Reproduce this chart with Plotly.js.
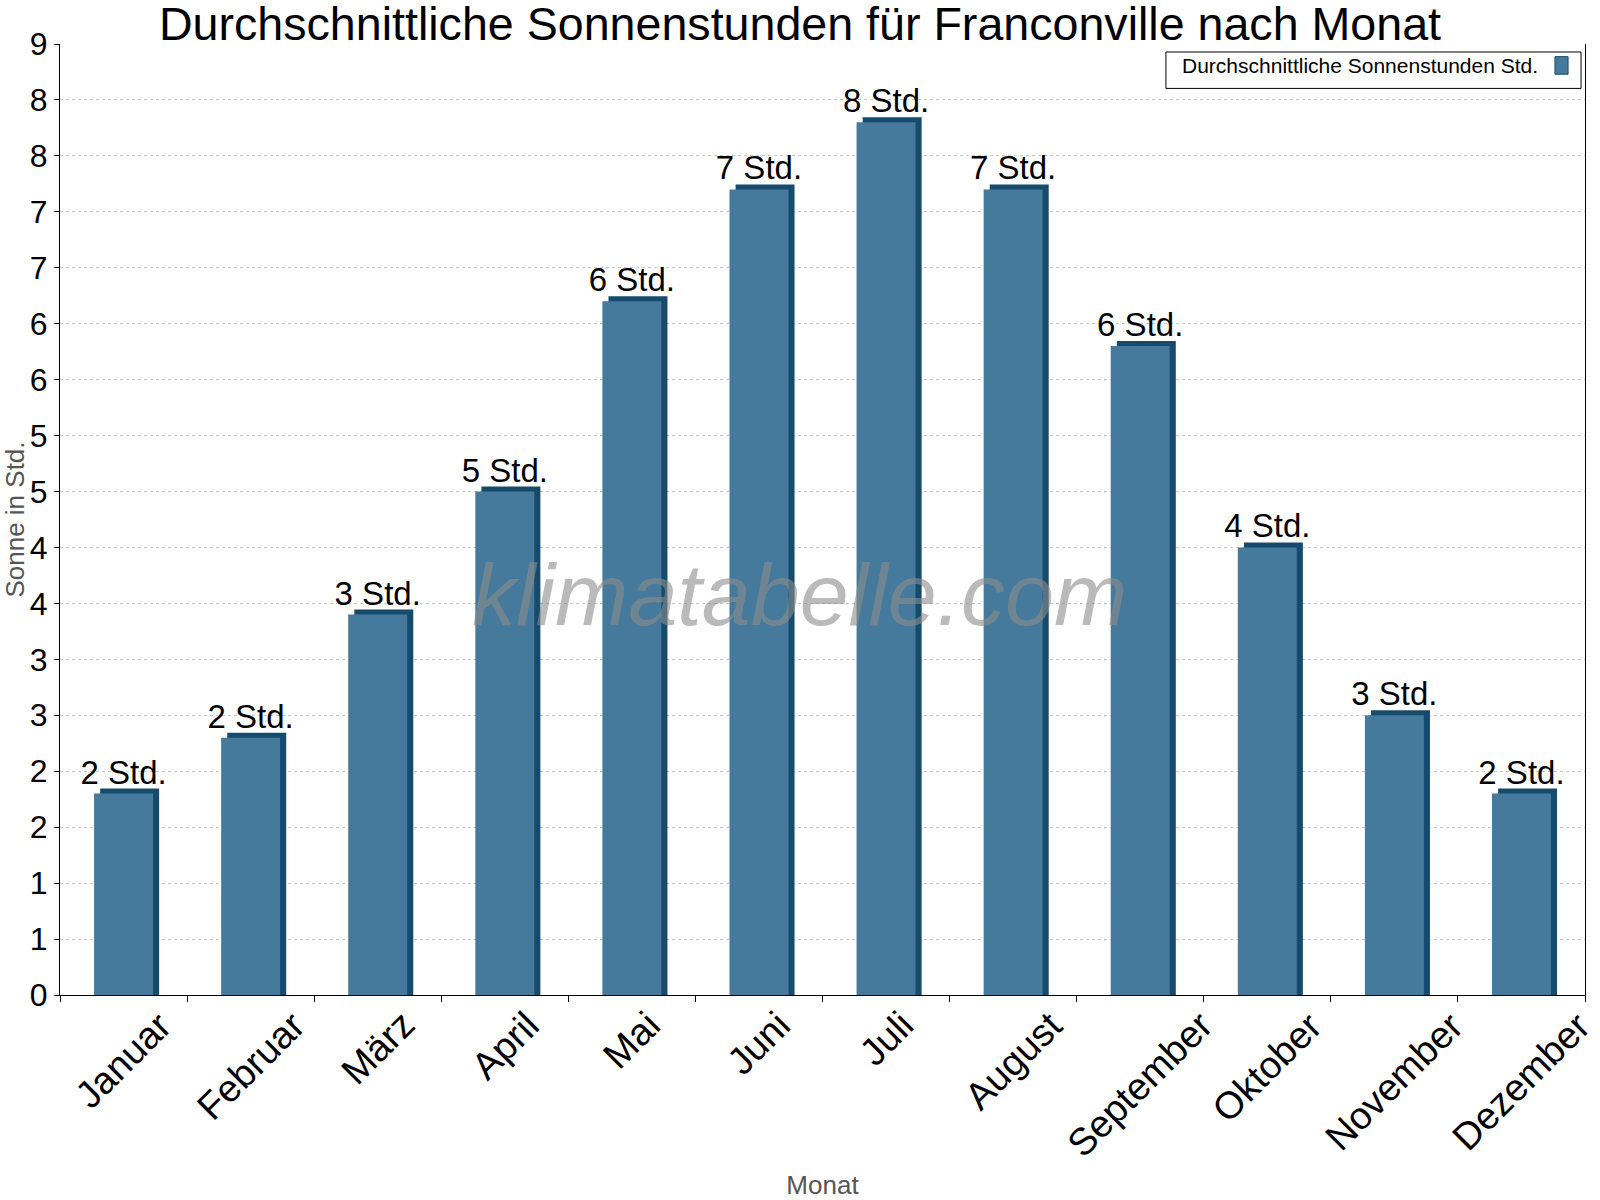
<!DOCTYPE html>
<html>
<head>
<meta charset="utf-8">
<script src="https://cdn.plot.ly/plotly-3.0.1.min.js"></script>
<style>html,body{margin:0;padding:0;background:#fff;}#chart{width:1600px;height:1200px;}</style>
</head>
<body>
<div id="chart"></div>
<script>
const months = ["Januar","Februar","März","April","Mai","Juni","Juli","August","September","Oktober","November","Dezember"];
const sunHours = [1.8, 2.3, 3.4, 4.5, 6.2, 7.2, 7.8, 7.2, 5.8, 4.0, 2.5, 1.8];
const valueLabels = ["2 Std.","2 Std.","3 Std.","5 Std.","6 Std.","7 Std.","8 Std.","7 Std.","6 Std.","4 Std.","3 Std.","2 Std."];
const yTickVals = [0,0.5,1,1.5,2,2.5,3,3.5,4,4.5,5,5.5,6,6.5,7,7.5,8,8.5];
const yTickText = ["0","1","1","2","2","3","3","4","4","5","5","6","6","7","7","8","8","9"];
const seriesName = "Durchschnittliche Sonnenstunden Std.";

const FONT = "Liberation Sans, Arial, Helvetica, sans-serif";
const FRONT = "#467a9c";
const DARK = "#174b6c";
const barW = 0.464;
const depthX = 0.048;
const depthY = 0.045;

const backTrace = {
  type: "bar",
  x: months,
  y: sunHours.map(v => v + depthY),
  width: barW,
  offset: -barW/2 + depthX,
  marker: {color: DARK, line: {width: 0}},
  hoverinfo: "skip",
  showlegend: false
};
const frontTrace = {
  type: "bar",
  name: seriesName,
  x: months,
  y: sunHours,
  width: barW,
  offset: -barW/2,
  marker: {color: FRONT, line: {width: 0}},
  text: valueLabels,
  textposition: "outside",
  constraintext: "none",
  cliponaxis: false,
  textfont: {family: FONT, size: 33, color: "#000"},
  showlegend: false
};

// month labels: rotated, centred under each category (bounding box top-aligned)
const monthLabels = months.map(m => ({
  text: m, xref: "x", yref: "paper", x: m, y: 0, yshift: -6,
  xanchor: "center", yanchor: "top", textangle: -45, showarrow: false,
  font: {family: FONT, size: 38, color: "#000"}
}));

const layout = {
  width: 1600, height: 1200,
  paper_bgcolor: "#fff", plot_bgcolor: "#fff",
  font: {family: FONT, color: "#000"},
  margin: {l: 60, r: 15, t: 44, b: 204.5, autoexpand: false},
  barmode: "overlay",
  showlegend: false,
  title: {
    text: "Durchschnittliche Sonnenstunden für Franconville nach Monat",
    font: {family: FONT, size: 46.6, color: "#000"},
    xref: "container", x: 0.5, xanchor: "center",
    yref: "container", y: 1 - 24/1200, yanchor: "middle"
  },
  xaxis: {
    type: "category",
    range: [-0.5, months.length - 0.5],
    autorange: false,
    tickson: "boundaries",
    ticks: "outside", ticklen: 6, tickcolor: "#000", tickwidth: 1,
    showticklabels: false,
    showline: true, linecolor: "#000", linewidth: 1,
    showgrid: false, zeroline: false,
    title: {text: "Monat", font: {family: FONT, size: 26, color: "#555"}, standoff: 180}
  },
  yaxis: {
    range: [0, 8.5],
    autorange: false,
    tickmode: "array", tickvals: yTickVals, ticktext: yTickText,
    ticks: "outside", ticklen: 5, tickcolor: "#000", tickwidth: 1,
    tickfont: {family: FONT, size: 32, color: "#000"},
    showline: true, linecolor: "#000", linewidth: 1, mirror: true,
    showgrid: true, gridcolor: "#c8c8c8", griddash: "dot", gridwidth: 1,
    zeroline: false,
    title: {text: "Sonne in Std.", font: {family: FONT, size: 26, color: "#555"}, standoff: 4}
  },
  shapes: [
    {type: "rect", xref: "paper", yref: "paper", x0: 0.7252, x1: 0.9974, y0: 0.9533, y1: 0.9916,
     line: {color: "#000", width: 1}, fillcolor: "#fff", layer: "above"},
    {type: "rect", xref: "paper", yref: "paper", x0: 0.9803, x1: 0.9889, y0: 0.9682, y1: 0.9867,
     line: {color: DARK, width: 1}, fillcolor: FRONT, layer: "above"}
  ],
  annotations: monthLabels.concat([
    {text: seriesName, xref: "paper", yref: "paper", x: 0.9705, y: 0.9769,
     xanchor: "right", yanchor: "middle", showarrow: false,
     font: {family: FONT, size: 21, color: "#000"}},
    {text: "<i>klimatabelle.com</i>", xref: "paper", yref: "paper", x: 0.4846, y: 0.4209,
     xanchor: "center", yanchor: "middle", showarrow: false,
     font: {family: FONT, size: 88, color: "rgba(140,140,140,0.6)"}}
  ])
};

Plotly.newPlot("chart", [backTrace, frontTrace], layout, {staticPlot: true, displayModeBar: false});
</script>
</body>
</html>
